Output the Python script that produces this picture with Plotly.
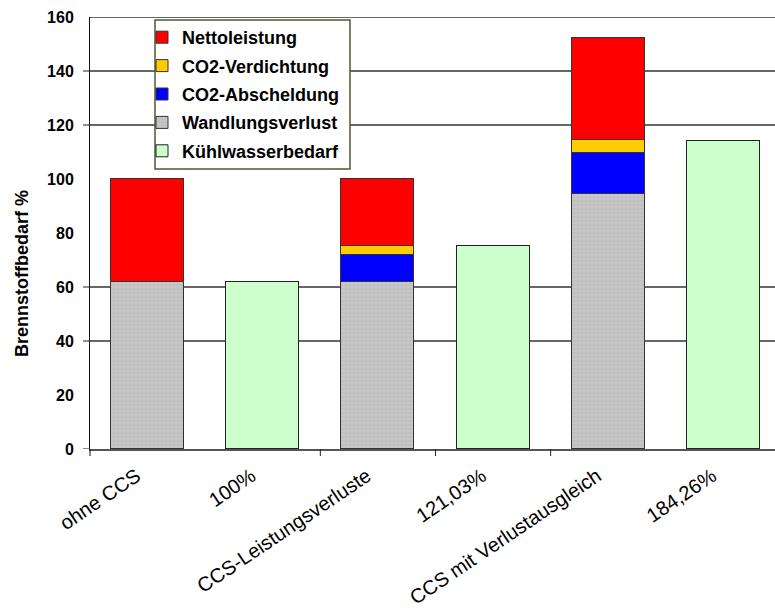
import plotly.graph_objects as go

# Scenario categories (x axis)
categories = ["ohne CCS", "100%", "CCS-Leistungsverluste", "121,03%",
              "CCS mit Verlustausgleich", "184,26%"]

# Stacked components, % of reference fuel demand
wandlungsverlust = [62.0, None, 62.0, None, 94.3, None]
abscheidung = [None, None, 10.0, None, 15.2, None]
verdichtung = [None, None, 3.2, None, 4.8, None]
nettoleistung = [38.0, None, 24.8, None, 37.8, None]
kuehlwasser = [None, 62.0, None, 75.04, None, 114.24]

# Horizontal reference lines and y ticks
grid_values = [40, 60, 120, 140, 160]
tick_values = [0, 40, 60, 120, 140]
y_ticks = [0, 20, 40, 60, 80, 100, 120, 140, 160]
x_tick_marks = [1.5, 2.5, 3.5]

FONT = "Arial, Liberation Sans, sans-serif"
OUTLINE = dict(color="#333333", width=1)
BAR_W = 0.634
PLOT_W, PLOT_H = 685, 432

x_idx = list(range(len(categories)))

fig = go.Figure()
fig.add_bar(x=x_idx, y=wandlungsverlust, name="Wandlungsverlust", width=BAR_W,
            marker=dict(color="#C0C0C0", line=OUTLINE,
                        pattern=dict(shape=".", fgcolor="#D2D2D2", bgcolor="#C0C0C0",
                                     size=4, solidity=0.35)),
            legendrank=4)
fig.add_bar(x=x_idx, y=abscheidung, name="CO2-Abscheldung", width=BAR_W,
            marker=dict(color="#0000FF", line=OUTLINE), legendrank=3)
fig.add_bar(x=x_idx, y=verdichtung, name="CO2-Verdichtung", width=BAR_W,
            marker=dict(color="#FFCC00", line=OUTLINE), legendrank=2)
fig.add_bar(x=x_idx, y=nettoleistung, name="Nettoleistung", width=BAR_W,
            marker=dict(color="#FF0000", line=OUTLINE), legendrank=1)
fig.add_bar(x=x_idx, y=kuehlwasser, name="Kühlwasserbedarf", width=BAR_W,
            marker=dict(color="#CCFFCC", line=dict(color="#222222", width=1)),
            legendrank=5)

for i, tr in enumerate(fig.data):
    tr.legendgroup = f"g{i}"

shapes = []
# gridlines behind the bars
for v in grid_values:
    shapes.append(dict(type="line", xref="paper", yref="y", x0=0, x1=1, y0=v, y1=v,
                       line=dict(color="#333333", width=1.5), layer="below"))
# outside ticks on the value axis
for v in tick_values:
    shapes.append(dict(type="line", xref="paper", yref="y", x0=-7 / PLOT_W, x1=0, y0=v, y1=v,
                       line=dict(color="#222222", width=1)))
# category separators below the x axis
for xv in x_tick_marks:
    shapes.append(dict(type="line", xref="x", yref="paper", x0=xv, x1=xv, y0=0, y1=-7 / PLOT_H,
                       line=dict(color="#222222", width=1)))
# value axis continues slightly below zero
shapes.append(dict(type="line", xref="paper", yref="paper", x0=0, x1=0, y0=0, y1=-7 / PLOT_H,
                   line=dict(color="#111111", width=1)))
# legend frame
shapes.append(dict(type="rect", xref="paper", yref="paper",
                   x0=(155 - 90) / PLOT_W, x1=(350 - 90) / PLOT_W,
                   y0=(449 - 169) / PLOT_H, y1=(449 - 20) / PLOT_H,
                   fillcolor="white", line=dict(color="#55552F", width=1.5), layer="above"))

fig.update_layout(
    width=775, height=612,
    margin=dict(l=90, r=0, t=17, b=163, autoexpand=False),
    paper_bgcolor="white", plot_bgcolor="white",
    barmode="stack", bargap=0,
    font=dict(family=FONT, color="black"),
    shapes=shapes,
    showlegend=True,
    legend=dict(xref="container", yref="container",
                x=142 / 775, y=1 - 19 / 612, xanchor="left", yanchor="top",
                bgcolor="rgba(0,0,0,0)", borderwidth=0,
                font=dict(family=FONT, size=18, color="black", weight="bold"),
                tracegroupgap=2, traceorder="grouped"),
    xaxis=dict(range=[-0.5, 5.448], tickmode="array", tickvals=x_idx, ticktext=categories,
               tickangle=-34, ticks="", showgrid=False, zeroline=False,
               showline=True, linecolor="#555555", linewidth=1.5,
               ticklabelshift=-11, ticklabelstandoff=6,
               tickfont=dict(family=FONT, size=20, color="black")),
    yaxis=dict(range=[0, 160], tickmode="array", tickvals=y_ticks, ticks="",
               showgrid=False, zeroline=False, showline=True, linecolor="#111111",
               linewidth=1, ticklabelstandoff=12,
               tickfont=dict(family=FONT, size=16, color="black", weight="bold")),
    annotations=[dict(text="Brennstoffbedarf %", xref="paper", yref="paper",
                      x=(22 - 90) / PLOT_W, y=(449 - 274) / PLOT_H,
                      xanchor="center", yanchor="middle",
                      textangle=-90, showarrow=False,
                      font=dict(family=FONT, size=18, color="black", weight="bold"))],
)

fig.write_html("out.html")
